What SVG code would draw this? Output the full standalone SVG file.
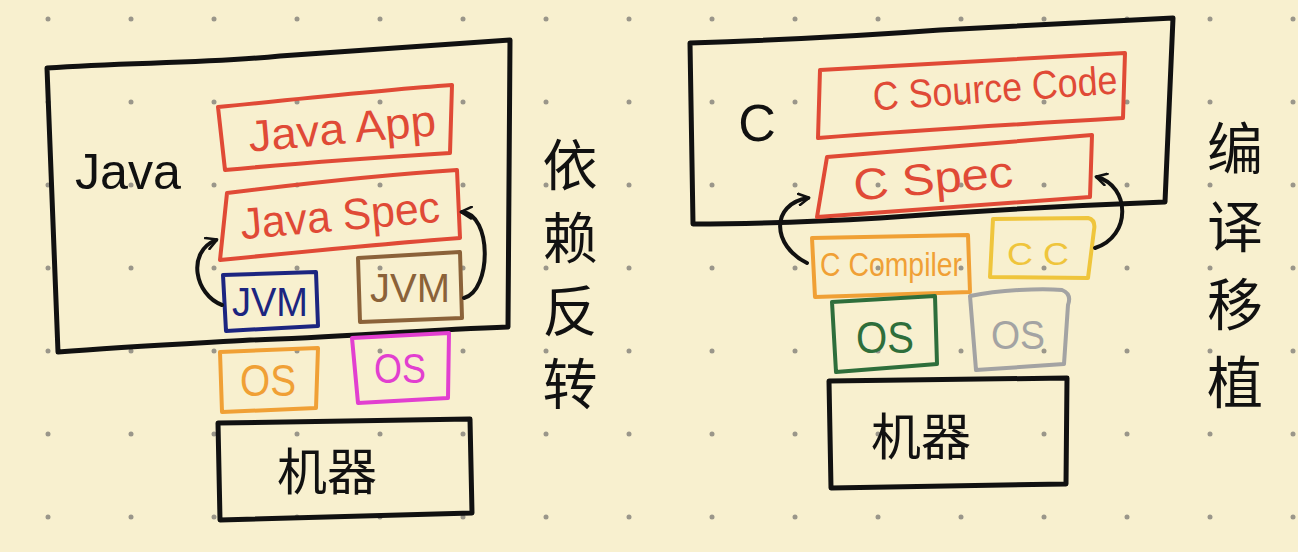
<svg xmlns="http://www.w3.org/2000/svg" width="1298" height="552" viewBox="0 0 1298 552">
<defs>
<style>
.bx{fill:none;stroke-linejoin:round;stroke-linecap:round}
.k{stroke:#111;stroke-width:5}
.red{stroke:#e04a36;stroke-width:4}
.t{font-family:"Liberation Sans","Noto Sans CJK SC",sans-serif;text-anchor:middle;dominant-baseline:central}
.cjk{font-family:"Noto Sans CJK SC",sans-serif;text-anchor:middle;dominant-baseline:central;fill:#111}
.vt{font-family:"Noto Sans CJK SC",sans-serif;text-anchor:middle;fill:#111;writing-mode:vertical-rl}
.dot{fill:#9a968a}
.arr{fill:none;stroke:#111;stroke-width:4;stroke-linecap:round}
</style>
<marker id="ah" viewBox="0 0 12 12" refX="9" refY="6" markerWidth="14" markerHeight="14" markerUnits="userSpaceOnUse" orient="auto">
<path d="M1,1 L10,6 L1,11" fill="none" stroke="#111" stroke-width="2.2" stroke-linecap="round" stroke-linejoin="round"/>
</marker>
</defs>
<rect width="1298" height="552" fill="#f8f0cf"/>
<g id="grid">
<circle class="dot" cx="48" cy="19" r="2.5"/><circle class="dot" cx="131" cy="19" r="2.5"/><circle class="dot" cx="214" cy="19" r="2.5"/><circle class="dot" cx="297" cy="19" r="2.5"/><circle class="dot" cx="380" cy="19" r="2.5"/><circle class="dot" cx="463" cy="19" r="2.5"/><circle class="dot" cx="546" cy="19" r="2.5"/><circle class="dot" cx="629" cy="19" r="2.5"/><circle class="dot" cx="712" cy="19" r="2.5"/><circle class="dot" cx="795" cy="19" r="2.5"/><circle class="dot" cx="878" cy="19" r="2.5"/><circle class="dot" cx="961" cy="19" r="2.5"/><circle class="dot" cx="1044" cy="19" r="2.5"/><circle class="dot" cx="1127" cy="19" r="2.5"/><circle class="dot" cx="1210" cy="19" r="2.5"/><circle class="dot" cx="1293" cy="19" r="2.5"/>
<circle class="dot" cx="48" cy="102" r="2.5"/><circle class="dot" cx="131" cy="102" r="2.5"/><circle class="dot" cx="214" cy="102" r="2.5"/><circle class="dot" cx="297" cy="102" r="2.5"/><circle class="dot" cx="380" cy="102" r="2.5"/><circle class="dot" cx="463" cy="102" r="2.5"/><circle class="dot" cx="546" cy="102" r="2.5"/><circle class="dot" cx="629" cy="102" r="2.5"/><circle class="dot" cx="712" cy="102" r="2.5"/><circle class="dot" cx="795" cy="102" r="2.5"/><circle class="dot" cx="878" cy="102" r="2.5"/><circle class="dot" cx="961" cy="102" r="2.5"/><circle class="dot" cx="1044" cy="102" r="2.5"/><circle class="dot" cx="1127" cy="102" r="2.5"/><circle class="dot" cx="1210" cy="102" r="2.5"/><circle class="dot" cx="1293" cy="102" r="2.5"/>
<circle class="dot" cx="48" cy="185" r="2.5"/><circle class="dot" cx="131" cy="185" r="2.5"/><circle class="dot" cx="214" cy="185" r="2.5"/><circle class="dot" cx="297" cy="185" r="2.5"/><circle class="dot" cx="380" cy="185" r="2.5"/><circle class="dot" cx="463" cy="185" r="2.5"/><circle class="dot" cx="546" cy="185" r="2.5"/><circle class="dot" cx="629" cy="185" r="2.5"/><circle class="dot" cx="712" cy="185" r="2.5"/><circle class="dot" cx="795" cy="185" r="2.5"/><circle class="dot" cx="878" cy="185" r="2.5"/><circle class="dot" cx="961" cy="185" r="2.5"/><circle class="dot" cx="1044" cy="185" r="2.5"/><circle class="dot" cx="1127" cy="185" r="2.5"/><circle class="dot" cx="1210" cy="185" r="2.5"/><circle class="dot" cx="1293" cy="185" r="2.5"/>
<circle class="dot" cx="48" cy="268" r="2.5"/><circle class="dot" cx="131" cy="268" r="2.5"/><circle class="dot" cx="214" cy="268" r="2.5"/><circle class="dot" cx="297" cy="268" r="2.5"/><circle class="dot" cx="380" cy="268" r="2.5"/><circle class="dot" cx="463" cy="268" r="2.5"/><circle class="dot" cx="546" cy="268" r="2.5"/><circle class="dot" cx="629" cy="268" r="2.5"/><circle class="dot" cx="712" cy="268" r="2.5"/><circle class="dot" cx="795" cy="268" r="2.5"/><circle class="dot" cx="878" cy="268" r="2.5"/><circle class="dot" cx="961" cy="268" r="2.5"/><circle class="dot" cx="1044" cy="268" r="2.5"/><circle class="dot" cx="1127" cy="268" r="2.5"/><circle class="dot" cx="1210" cy="268" r="2.5"/><circle class="dot" cx="1293" cy="268" r="2.5"/>
<circle class="dot" cx="48" cy="351" r="2.5"/><circle class="dot" cx="131" cy="351" r="2.5"/><circle class="dot" cx="214" cy="351" r="2.5"/><circle class="dot" cx="297" cy="351" r="2.5"/><circle class="dot" cx="380" cy="351" r="2.5"/><circle class="dot" cx="463" cy="351" r="2.5"/><circle class="dot" cx="546" cy="351" r="2.5"/><circle class="dot" cx="629" cy="351" r="2.5"/><circle class="dot" cx="712" cy="351" r="2.5"/><circle class="dot" cx="795" cy="351" r="2.5"/><circle class="dot" cx="878" cy="351" r="2.5"/><circle class="dot" cx="961" cy="351" r="2.5"/><circle class="dot" cx="1044" cy="351" r="2.5"/><circle class="dot" cx="1127" cy="351" r="2.5"/><circle class="dot" cx="1210" cy="351" r="2.5"/><circle class="dot" cx="1293" cy="351" r="2.5"/>
<circle class="dot" cx="48" cy="434" r="2.5"/><circle class="dot" cx="131" cy="434" r="2.5"/><circle class="dot" cx="214" cy="434" r="2.5"/><circle class="dot" cx="297" cy="434" r="2.5"/><circle class="dot" cx="380" cy="434" r="2.5"/><circle class="dot" cx="463" cy="434" r="2.5"/><circle class="dot" cx="546" cy="434" r="2.5"/><circle class="dot" cx="629" cy="434" r="2.5"/><circle class="dot" cx="712" cy="434" r="2.5"/><circle class="dot" cx="795" cy="434" r="2.5"/><circle class="dot" cx="878" cy="434" r="2.5"/><circle class="dot" cx="961" cy="434" r="2.5"/><circle class="dot" cx="1044" cy="434" r="2.5"/><circle class="dot" cx="1127" cy="434" r="2.5"/><circle class="dot" cx="1210" cy="434" r="2.5"/><circle class="dot" cx="1293" cy="434" r="2.5"/>
<circle class="dot" cx="48" cy="517" r="2.5"/><circle class="dot" cx="131" cy="517" r="2.5"/><circle class="dot" cx="214" cy="517" r="2.5"/><circle class="dot" cx="297" cy="517" r="2.5"/><circle class="dot" cx="380" cy="517" r="2.5"/><circle class="dot" cx="463" cy="517" r="2.5"/><circle class="dot" cx="546" cy="517" r="2.5"/><circle class="dot" cx="629" cy="517" r="2.5"/><circle class="dot" cx="712" cy="517" r="2.5"/><circle class="dot" cx="795" cy="517" r="2.5"/><circle class="dot" cx="878" cy="517" r="2.5"/><circle class="dot" cx="961" cy="517" r="2.5"/><circle class="dot" cx="1044" cy="517" r="2.5"/><circle class="dot" cx="1127" cy="517" r="2.5"/><circle class="dot" cx="1210" cy="517" r="2.5"/><circle class="dot" cx="1293" cy="517" r="2.5"/>
</g>

<!-- Java side -->
<g id="java">
<path class="bx k" d="M47,68 C130,62 200,64 280,56 C360,50 430,46 510,40 L508,327 C420,330 330,338 250,340 C180,344 120,347 58,352 Z"/>
<text class="t" x="128" y="172" font-size="50" fill="#111" textLength="106" lengthAdjust="spacingAndGlyphs">Java</text>
</g>
<g id="java-app">
<path class="bx red" d="M218,107 C300,99 380,90 452,85 L450,153 C370,158 300,163 225,170 Z"/>
<text class="t" x="342" y="128" font-size="44" fill="#e04a36" transform="rotate(-5 342 128)" textLength="188" lengthAdjust="spacingAndGlyphs">Java App</text>
</g>
<g id="java-spec">
<path class="bx red" d="M227,193 C300,184 380,175 457,170 L460,238 C380,244 300,252 220,260 Z"/>
<text class="t" x="340" y="215" font-size="44" fill="#e04a36" transform="rotate(-5 340 215)" textLength="200" lengthAdjust="spacingAndGlyphs">Java Spec</text>
</g>
<g id="jvm-blue">
<path class="bx" stroke="#1c2580" stroke-width="4" d="M223,275 L316,272 L318,326 L226,331 Z"/>
<text class="t" x="270" y="302" font-size="40" fill="#1c2580" textLength="76" lengthAdjust="spacingAndGlyphs">JVM</text>
</g>
<g id="jvm-brown">
<path class="bx" stroke="#8b6239" stroke-width="4" d="M358,258 L460,252 L462,318 L360,322 Z"/>
<text class="t" x="410" y="288" font-size="40" fill="#8b6239" textLength="80" lengthAdjust="spacingAndGlyphs">JVM</text>
</g>
<g id="os-orange">
<path class="bx" stroke="#f0a035" stroke-width="4" d="M220,352 L318,348 L316,408 L222,412 Z"/>
<text class="t" x="268" y="380" font-size="44" fill="#f0a035" textLength="56" lengthAdjust="spacingAndGlyphs">OS</text>
</g>
<g id="os-pink">
<path class="bx" stroke="#e23fd0" stroke-width="4" d="M352,338 L449,333 L448,398 L358,403 Z"/>
<text class="t" x="400" y="368" font-size="42" fill="#e23fd0" textLength="52" lengthAdjust="spacingAndGlyphs">OS</text>
</g>
<g id="machine-left">
<path class="bx k" d="M218,423 L470,419 L472,513 L220,520 Z"/>
<text class="cjk" x="327" y="468" font-size="50">机器</text>
</g>
<g id="label-left">
<text class="vt" x="570" y="283" font-size="55" letter-spacing="18">依赖反转</text>
</g>

<!-- C side -->
<g id="c">
<path class="bx k" d="M690,43 C780,40 860,36 940,30 C1020,26 1100,22 1173,18 L1165,202 C1060,206 960,212 880,218 C810,222 750,224 693,224 Z"/>
<text class="t" x="757" y="123" font-size="52" fill="#111">C</text>
</g>
<g id="c-source">
<path class="bx red" d="M820,70 C920,64 1020,58 1125,53 L1123,118 C1020,124 920,130 818,138 Z"/>
<text class="t" x="995" y="88" font-size="40" fill="#e04a36" transform="rotate(-4 995 88)" textLength="245" lengthAdjust="spacingAndGlyphs">C Source Code</text>
</g>
<g id="c-spec">
<path class="bx red" d="M827,157 C920,150 1000,142 1092,135 L1090,197 C1000,203 910,210 817,217 Z"/>
<text class="t" x="933" y="178" font-size="44" fill="#e04a36" transform="rotate(-5 933 178)" textLength="160" lengthAdjust="spacingAndGlyphs">C Spec</text>
</g>
<g id="c-compiler">
<path class="bx" stroke="#f0a035" stroke-width="4" d="M812,238 L968,235 L970,292 L815,297 Z"/>
<text class="t" x="891" y="264" font-size="34" fill="#f0a035" textLength="142" lengthAdjust="spacingAndGlyphs">C Compiler</text>
</g>
<g id="cc">
<path class="bx" stroke="#efc53c" stroke-width="4" d="M993,219 L1088,218 Q1096,220 1094,230 L1088,278 L990,277 Z"/>
<text class="t" x="1038" y="254" font-size="32" fill="#efc53c" textLength="62" lengthAdjust="spacingAndGlyphs">C C</text>
</g>
<g id="os-green">
<path class="bx" stroke="#2e6e3b" stroke-width="4" d="M832,302 L935,296 L937,364 L836,372 Z"/>
<text class="t" x="885" y="337" font-size="44" fill="#2e6e3b" textLength="58" lengthAdjust="spacingAndGlyphs">OS</text>
</g>
<g id="os-grey">
<path class="bx" stroke="#a3a3a3" stroke-width="4" d="M970,296 C1000,290 1040,288 1062,290 Q1072,294 1068,305 L1064,364 L976,370 Z"/>
<text class="t" x="1018" y="335" font-size="40" fill="#a3a3a3" textLength="54" lengthAdjust="spacingAndGlyphs">OS</text>
</g>
<g id="machine-right">
<path class="bx k" d="M829,381 L1067,378 L1066,484 L831,488 Z"/>
<text class="cjk" x="921" y="433" font-size="50">机器</text>
</g>
<g id="label-right">
<text class="vt" x="1235" y="276" font-size="56" letter-spacing="22">编译移植</text>
</g>

<g id="connectors">
<path class="arr" marker-end="url(#ah)" d="M222,305 C195,295 186,252 216,240"/>
<path class="arr" marker-end="url(#ah)" d="M464,298 C492,290 492,214 462,212"/>
<path class="arr" marker-end="url(#ah)" d="M807,263 C772,246 770,204 808,198"/>
<path class="arr" marker-end="url(#ah)" d="M1095,248 C1132,236 1130,186 1097,177"/>
</g>
</svg>
